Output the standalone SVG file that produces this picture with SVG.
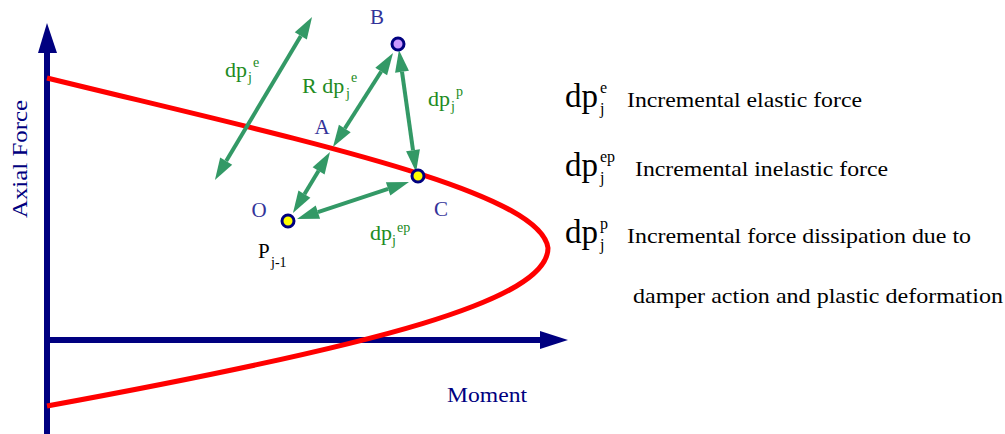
<svg xmlns="http://www.w3.org/2000/svg" width="1005" height="434" viewBox="0 0 1005 434">
<style>
.ax{stroke:#000080;stroke-width:6;fill:none}
.axh{fill:#000080}
.curve{stroke:#ff0000;stroke-width:5;fill:none}
.g{stroke:#339966;stroke-width:4;fill:none;marker-start:url(#ah);marker-end:url(#ah)}
.gt{fill:#228b22;font-family:"Liberation Serif",serif;font-size:22px}
.gs{fill:#228b22;font-family:"Liberation Serif",serif;font-size:14px}
.pt{fill:#333399;font-family:"Liberation Serif",serif;font-size:21px}
.nt{fill:#000080;font-family:"Liberation Serif",serif;font-size:22px}
.lg{fill:#000;font-family:"Liberation Serif",serif;font-size:33px}
.ls{fill:#000;font-family:"Liberation Serif",serif;font-size:16px}
.lt{fill:#000;font-family:"Liberation Serif",serif;font-size:22px}
.node{stroke:#000080;stroke-width:3}
</style>
<defs>
<marker id="ah" markerUnits="userSpaceOnUse" markerWidth="22" markerHeight="14" refX="0" refY="7" orient="auto-start-reverse" overflow="visible">
<path d="M0,0 L22,7 L0,14 z" fill="#339966"/>
</marker>
</defs>
<g id="axes">
<line class="ax" x1="47" y1="434" x2="47" y2="50"/>
<polygon class="axh" points="47,23 38,53 57,53"/>
<line class="ax" x1="47" y1="340" x2="542" y2="340"/>
<polygon class="axh" points="568,340 540,331 540,349"/>
<text class="nt" transform="translate(27,159) rotate(-90)" text-anchor="middle" textLength="118" lengthAdjust="spacingAndGlyphs">Axial Force</text>
<text class="nt" x="447" y="402" textLength="80" lengthAdjust="spacingAndGlyphs">Moment</text>
</g>
<g id="curve">
<path class="curve" d="M47,78 C300,140 540,190 548,248 C548,300 380,345 47,406"/>
</g>
<g id="connectors">
<line class="g" x1="300.8" y1="35.9" x2="226.2" y2="161.1"/>
<line class="g" x1="381.2" y1="71.5" x2="344.8" y2="128.5"/>
<line class="g" x1="318.6" y1="170.8" x2="304.4" y2="194.2"/>
<line class="g" x1="402" y1="71.8" x2="413" y2="150.2"/>
<line class="g" x1="317.9" y1="212.1" x2="388.1" y2="188.9"/>
</g>
<g id="node-B">
<circle class="node" cx="398" cy="44" r="6" fill="#cc99ff"/>
<text class="pt" x="377" y="24" text-anchor="middle">B</text>
</g>
<g id="node-A">
<text class="pt" x="322" y="134" text-anchor="middle">A</text>
</g>
<g id="node-C">
<circle class="node" cx="418" cy="176" r="6" fill="#ffff00"/>
<text class="pt" x="441" y="216" text-anchor="middle">C</text>
</g>
<g id="node-O">
<circle class="node" cx="288" cy="221" r="6" fill="#ffff00"/>
<text class="pt" x="259" y="217" text-anchor="middle">O</text>
<text x="258" y="258" font-family="Liberation Serif,serif" font-size="21" fill="#000">P</text>
<text x="271" y="267" font-family="Liberation Serif,serif" font-size="14" fill="#000">j-1</text>
</g>
<g id="labels">
<text class="gt" x="225" y="77">dp</text><text class="gs" x="248" y="82">j</text><text class="gs" x="253" y="67">e</text>
<text class="gt" x="302" y="93">R dp</text><text class="gs" x="346" y="98">j</text><text class="gs" x="351" y="82">e</text>
<text class="gt" x="428" y="106">dp</text><text class="gs" x="451" y="111">j</text><text class="gs" x="456" y="96">p</text>
<text class="gt" x="370" y="240">dp</text><text class="gs" x="392" y="245">j</text><text class="gs" x="397" y="232">ep</text>
</g>
<g id="legend">
<text class="lg" x="565" y="107">dp</text><text class="ls" x="600" y="114">j</text><text class="ls" x="600" y="93">e</text>
<text class="lt" x="627" y="107" textLength="235" lengthAdjust="spacingAndGlyphs">Incremental elastic force</text>
<text class="lg" x="565" y="176">dp</text><text class="ls" x="600" y="183">j</text><text class="ls" x="600" y="162">ep</text>
<text class="lt" x="635" y="176" textLength="253" lengthAdjust="spacingAndGlyphs">Incremental inelastic force</text>
<text class="lg" x="565" y="243">dp</text><text class="ls" x="600" y="250">j</text><text class="ls" x="600" y="229">p</text>
<text class="lt" x="627" y="243" textLength="344" lengthAdjust="spacingAndGlyphs">Incremental force dissipation due to</text>
<text class="lt" x="633" y="303" textLength="370" lengthAdjust="spacingAndGlyphs">damper action and plastic deformation</text>
</g>
</svg>
